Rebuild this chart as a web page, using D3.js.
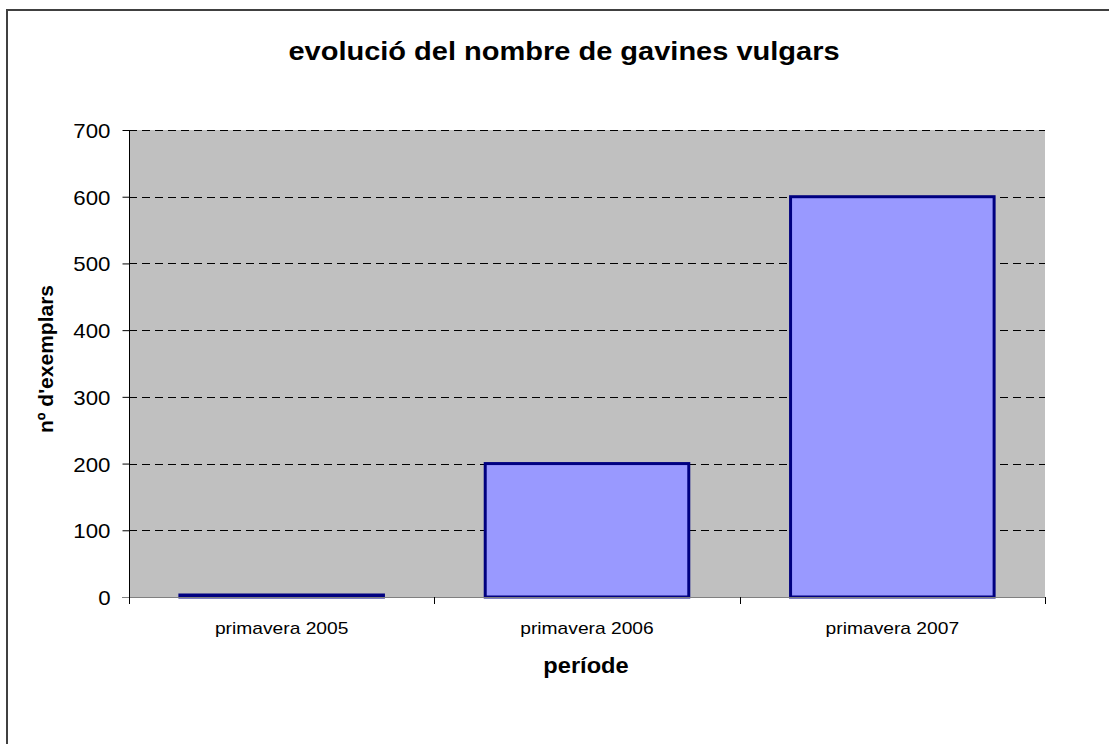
<!DOCTYPE html>
<html><head><meta charset="utf-8">
<script src="https://cdn.jsdelivr.net/npm/d3@7"></script>
<style>html,body{margin:0;padding:0;background:#fff;}svg{display:block;}</style>
</head><body>
<svg id="c" width="1109" height="744"></svg>
<script>
const categories = ["primavera 2005", "primavera 2006", "primavera 2007"];
const values = [3, 200, 600];
const yTicks = [0, 100, 200, 300, 400, 500, 600, 700];
const titleText = "evolució del nombre de gavines vulgars";
const xTitle = "període";
const yTitle = "nº d'exemplars";

const svg = d3.select("#c");
const font = "Liberation Sans, Arial, sans-serif";
const L = 129, R = 1045, T = 130, B = 597;

function stretch(sel, sx) {
  sel.each(function () {
    const w = this.getComputedTextLength();
    d3.select(this).attr("textLength", w * sx).attr("lengthAdjust", "spacingAndGlyphs");
  });
}

// outer frame
svg.append("rect").attr("x", 7).attr("y", 10).attr("width", 1200).attr("height", 800)
  .attr("fill", "#fff").attr("stroke", "#404040").attr("stroke-width", 2);

const x = d3.scaleBand().domain(categories).range([L, R]).paddingInner(1/3).paddingOuter(1/6);
const y = d3.scaleLinear().domain([0, 700]).range([B, T]);

svg.append("rect").attr("x", L).attr("y", T).attr("width", R - L).attr("height", B - T).attr("fill", "#c0c0c0");

// gridlines
svg.append("g").selectAll("line").data(yTicks.filter(d => d > 0)).join("line")
  .attr("x1", L).attr("x2", R).attr("y1", d => Math.round(y(d)) + 0.5).attr("y2", d => Math.round(y(d)) + 0.5)
  .attr("stroke", "#000").attr("stroke-dasharray", "8,5").attr("stroke-width", 1);

// bars
svg.append("g").selectAll("rect").data(values).join("rect")
  .attr("x", (d, i) => x(categories[i]))
  .attr("y", d => y(d))
  .attr("width", x.bandwidth())
  .attr("height", d => B - y(d))
  .attr("fill", "#9999ff").attr("stroke", "#000080").attr("stroke-width", 3);

// y axis
const ya = svg.append("g").attr("transform", `translate(${L + 0.5},0)`)
  .call(d3.axisLeft(y).tickValues(yTicks).tickSize(7).tickPadding(12));
ya.select(".domain").attr("stroke", "#000").attr("d", `M0,${T}V${B}`);
ya.selectAll(".tick line").attr("stroke", "#000");
ya.selectAll("text").attr("font-family", font).attr("font-size", 21).attr("fill", "#000").attr("dy", "0.36em");
stretch(ya.selectAll("text"), 1.06);

// x axis
svg.append("line").attr("x1", L - 7).attr("x2", R).attr("y1", B + 0.5).attr("y2", B + 0.5).attr("stroke", "#808080");
const xa = svg.append("g").attr("transform", `translate(0,${B})`)
  .call(d3.axisBottom(x).tickSize(0).tickPadding(0));
xa.select(".domain").remove();
xa.selectAll("text").attr("font-family", font).attr("font-size", 17).attr("fill", "#000")
  .attr("y", 37).attr("dy", 0);
stretch(xa.selectAll("text"), 1.13);
// tick marks at band boundaries
const bounds = [L, ...categories.slice(1).map(c => x(c) - x.step() * x.paddingInner() / 2), R];
svg.append("g").selectAll("line").data(bounds).join("line")
  .attr("x1", d => Math.round(d) + 0.5).attr("x2", d => Math.round(d) + 0.5)
  .attr("y1", B).attr("y2", B + 7).attr("stroke", "#000");

const t = svg.append("text").attr("x", 564).attr("y", 60).attr("text-anchor", "middle")
  .attr("font-family", font).attr("font-size", 25).attr("font-weight", "bold").text(titleText);
stretch(t, 1.16);
const xt = svg.append("text").attr("x", 586).attr("y", 673).attr("text-anchor", "middle")
  .attr("font-family", font).attr("font-size", 21.5).attr("font-weight", "bold").text(xTitle);
stretch(xt, 1.1);
svg.append("text").attr("transform", "translate(53,359) rotate(-90)").attr("text-anchor", "middle")
  .attr("font-family", font).attr("font-size", 21).attr("font-weight", "bold").text(yTitle);
</script>
</body></html>
